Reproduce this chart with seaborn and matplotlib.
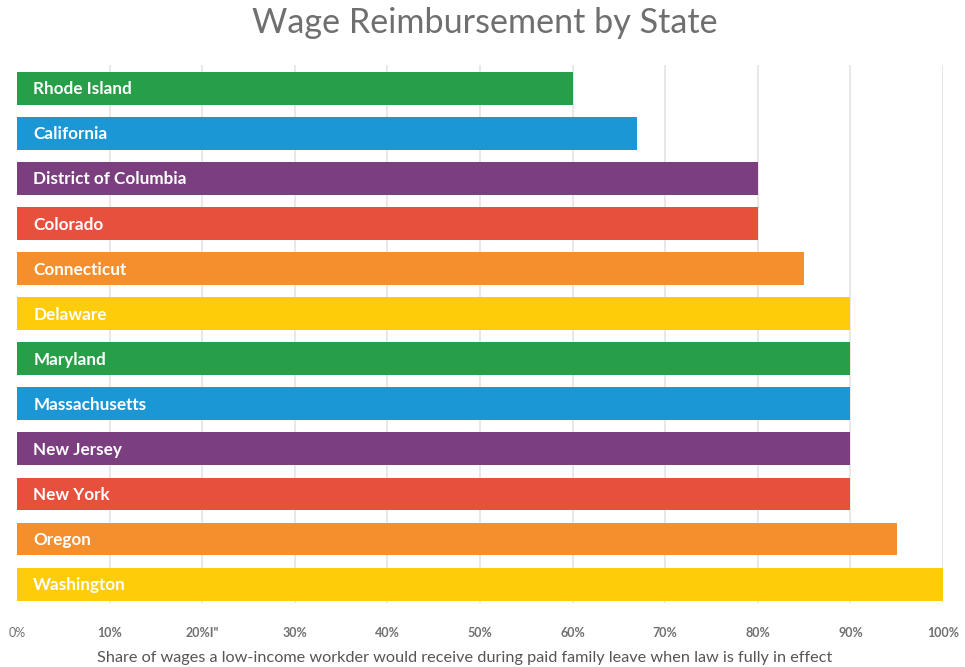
import matplotlib
matplotlib.use("Agg")
import matplotlib.pyplot as plt
import seaborn as sns
import pandas as pd

states = ["Rhode Island", "California", "District of Columbia", "Colorado", "Connecticut",
          "Delaware", "Maryland", "Massachusetts", "New Jersey", "New York", "Oregon", "Washington"]
values = [60, 67, 80, 80, 85, 90, 90, 90, 90, 90, 95, 100]
colors = ["#279E48", "#1C97D6", "#7B3F80", "#E8503E", "#F48F2E", "#FECC09",
          "#279E48", "#1C97D6", "#7B3F80", "#E8503E", "#F48F2E", "#FECC09"]
tick_values = [0, 10, 20, 30, 40, 50, 60, 70, 80, 90, 100]
tick_labels = ["0%", "10%", "20%I\"", "30%", "40%", "50%", "60%", "70%", "80%", "90%", "100%"]

sns.set_theme(style="white")
plt.rcParams["font.family"] = ["Lato", "DejaVu Sans"]

df = pd.DataFrame({"state": states, "value": values})

fig = plt.figure(figsize=(9.65, 6.67), dpi=100)
ax = fig.add_axes([17/965, 1 - 603/667, (943-17)/965, (603-65)/667])

for x in tick_values[1:]:
    ax.axvline(x, color="#e6e6e6", lw=1.3, zorder=0)

sns.barplot(data=df, y="state", x="value", hue="state", palette=colors, legend=False,
            orient="h", width=0.73, ax=ax, zorder=2, edgecolor="none", linewidth=0,
            saturation=1)

for i, s in enumerate(states):
    ax.text(1.75, i + 0.02, s, color="white", fontsize=12.3, fontweight="bold",
            va="center", ha="left", zorder=3)

ax.set_xlim(0, 100)
ax.set_ylim(11.42, -0.52)
ax.set_yticks([])
ax.set_xticks(tick_values)
ax.set_xticklabels(tick_labels)
for lbl in ax.get_xticklabels():
    lbl.set_fontweight("bold")
    lbl.set_color("#707070")
    lbl.set_fontsize(9)
ax.get_xticklabels()[0].set_fontweight("normal")
ax.tick_params(axis="x", length=0, pad=17)
for sp in ax.spines.values():
    sp.set_visible(False)
ax.set_xlabel("")
ax.set_ylabel("")

fig.text(465/965, 1 - 658/667,
         "Share of wages a low-income workder would receive during paid family leave when law is fully in effect",
         ha="center", va="center", fontsize=11.7, color="#555555")

fig.text(485/965, 1 - 23/667, "Wage Reimbursement by State", ha="center", va="center",
         fontsize=24.6, color="#6f6f6f")

fig.savefig("out.png", dpi=100)
